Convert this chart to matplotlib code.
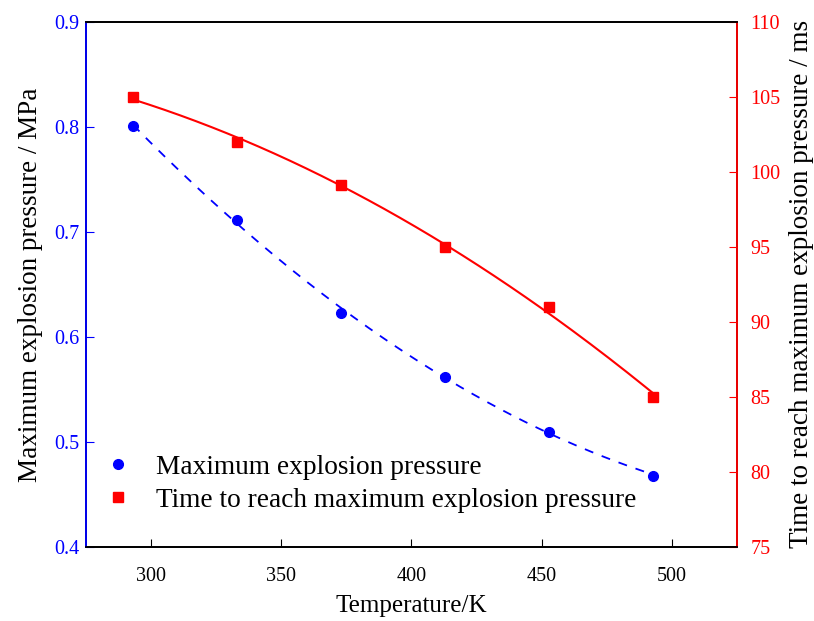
import numpy as np
import matplotlib
matplotlib.use("Agg")
import matplotlib.pyplot as plt

plt.rcParams['font.family'] = ['Liberation Serif', 'DejaVu Serif']

temperature = [293, 333, 373, 413, 453, 493]
pressure = [0.801, 0.711, 0.623, 0.562, 0.510, 0.468]
time_ms = [105.0, 102.0, 99.1, 95.0, 91.0, 85.0]

# quadratic trend lines through the measured points
tfit = np.linspace(temperature[0], temperature[-1], 200)
pfit = np.polyval(np.polyfit(temperature, pressure, 2), tfit)
mfit = np.polyval(np.polyfit(temperature, time_ms, 2), tfit)

fig = plt.figure(figsize=(8.14, 6.21), dpi=100)
ax = fig.add_axes([0.106, 0.119, 0.799, 0.846])
ax2 = ax.twinx()

ax.plot(tfit, pfit, color='blue', ls=(0, (5, 5)), lw=1.3)
l1, = ax.plot(temperature, pressure, 'o', color='blue', ms=7, ls='none',
              label='Maximum explosion pressure')
ax2.plot(tfit, mfit, color='red', lw=1.5)
l2, = ax2.plot(temperature, time_ms, 's', color='red', ms=6.5, ls='none',
               label='Time to reach maximum explosion pressure')

ax.set_xlim(275, 525)
ax.set_ylim(0.4, 0.9)
ax2.set_ylim(75, 110)
ax.set_xticks([300, 350, 400, 450, 500])
ax.set_yticks([0.4, 0.5, 0.6, 0.7, 0.8, 0.9])
ax2.set_yticks(range(75, 111, 5))

ax.tick_params(axis='x', direction='in', length=6, labelsize=14.5, pad=14, colors='black')
ax.tick_params(axis='y', direction='in', length=6, labelsize=14.5, colors='blue', pad=5)
ax2.tick_params(axis='y', direction='in', length=6, labelsize=14.5, colors='red', pad=10)

for a in (ax, ax2):
    for s in a.spines.values():
        s.set_linewidth(1.3)
ax2.spines['left'].set_color('blue')
ax2.spines['right'].set_color('red')

ax.set_xlabel('Temperature/K', fontsize=18, labelpad=7)
ax.set_ylabel('Maximum explosion pressure / MPa', fontsize=19.5, labelpad=8)
ax2.set_ylabel('Time to reach maximum explosion pressure / ms', fontsize=19.5, labelpad=6)

ax.legend(handles=[l1, l2], loc='lower left', bbox_to_anchor=(-0.021, 0.018),
          frameon=False, fontsize=19.7, handletextpad=0.65, labelspacing=0.3,
          handlelength=1.5)

fig.savefig('out.png', dpi=100)
